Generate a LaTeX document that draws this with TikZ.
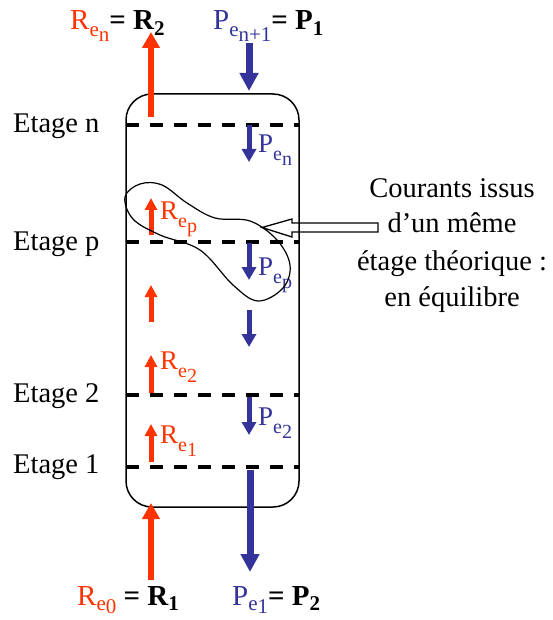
\documentclass[tikz,border=0pt]{standalone}
\usepackage{fontspec}
\setmainfont{Liberation Serif}
\usetikzlibrary{arrows.meta}
\definecolor{rcol}{RGB}{255,51,0}
\definecolor{bcol}{RGB}{51,51,153}
\newcommand\szA{\fontsize{29}{31}\selectfont}
\newcommand\szB{\fontsize{21}{23}\selectfont}
\newcommand\szC{\fontsize{27}{29}\selectfont}
\newcommand\szD{\fontsize{20}{22}\selectfont}
\newcommand\dn[2]{\raisebox{-#1pt}{#2}}
\begin{document}
\begin{tikzpicture}[x=1pt,y=-1pt,
  txt/.style={inner sep=0pt,anchor=base west},
  side/.style={inner sep=0pt,anchor=base,font=\fontsize{28.5}{30}\selectfont},
  stage/.style={inner sep=0pt,anchor=base west,font=\fontsize{28.5}{30}\selectfont},
  tray/.style={line width=4pt,dash pattern=on 13pt off 11pt},
  bigR/.style={rcol,line width=6pt,-{Triangle[width=17pt,length=16pt]}},
  bigB/.style={bcol,line width=7pt,-{Triangle[width=18pt,length=18pt]}},
  smallR/.style={rcol,line width=5pt,-{Triangle[width=12pt,length=12pt]}},
  smallB/.style={bcol,line width=5pt,-{Triangle[width=14pt,length=13pt]}}]
\useasboundingbox (0,0) rectangle (553,620);

% column
\draw[line width=1.5pt,rounded corners=26pt] (126,94) rectangle (299,507);

% trays
\foreach \yy/\nm in {125/n,242/p,395/two,467/one}{
  \coordinate (tl\nm) at (126,\yy);
  \coordinate (tr\nm) at (300,\yy);
  \draw[tray] (tl\nm) -- (tr\nm);
}

% stage labels
\node[stage] (sn) at (13,133) {Etage n};
\node[stage] (sp) at (13,250) {Etage p};
\node[stage] (s2) at (13,402) {Etage 2};
\node[stage] (s1) at (13,473) {Etage 1};

% top / bottom labels
\node[txt] (Rtop) at (70,30) {{\color{rcol}\szA R\szB\dn{7}{e}\dn{12}{n}}{\szA\bfseries = R\szB\dn{6}{2}}};
\node[txt] (Ptop) at (213,30) {{\color{bcol}\szA P\szB\dn{7}{e}\dn{12}{n+1}}{\szA\bfseries = P\szB\dn{6}{1}}};
\node[txt] (Rbot) at (77,605) {{\color{rcol}\szA R\szB\dn{5}{e}\dn{8}{0}}{\szA\bfseries\ = R\szB\dn{5}{1}}};
\node[txt] (Pbot) at (232,605) {{\color{bcol}\szA P\szB\dn{5}{e}\dn{8}{1}}{\szA\bfseries = P\szB\dn{5}{2}}};

% big arrows
\coordinate (rt0) at (151,117); \coordinate (rt1) at (151,32);
\coordinate (bt0) at (249,43);  \coordinate (bt1) at (249,91);
\coordinate (rb0) at (151,580); \coordinate (rb1) at (151,503);
\coordinate (bb0) at (250,470); \coordinate (bb1) at (250,572);
\draw[bigR] (rt0) -- (rt1);
\draw[bigB] (bt0) -- (bt1);
\draw[bigR] (rb0) -- (rb1);
\draw[bigB] (bb0) -- (bb1);

% small arrows
\foreach \a/\b/\nm in {235/198/a,322/285/b,393/355/c,462/424/d}{
  \coordinate (r\nm0) at (151,\a); \coordinate (r\nm1) at (151,\b);
  \draw[smallR] (r\nm0) -- (r\nm1);
}
\foreach \a/\b/\nm in {125/162/a,243/280/b,310/347/c,397/435/d}{
  \coordinate (b\nm0) at (249,\a); \coordinate (b\nm1) at (249,\b);
  \draw[smallB] (b\nm0) -- (b\nm1);
}

% inner labels
\node[txt,rcol] (Rp) at (160,219) {\szC R\szD\dn{8}{e}\dn{13}{p}};
\node[txt,rcol] (R2) at (160,369) {\szC R\szD\dn{8}{e}\dn{13}{2}};
\node[txt,rcol] (R1) at (160,443) {\szC R\szD\dn{8}{e}\dn{13}{1}};
\node[txt,bcol] (Pn) at (258,153) {\szC P\szD\dn{8}{e}\dn{13}{n}};
\node[txt,bcol] (Pp) at (258,275) {\szC P\szD\dn{8}{e}\dn{13}{p}};
\node[txt,bcol] (P2) at (258,425) {\szC P\szD\dn{8}{e}\dn{13}{2}};

% blob
\draw[line width=1.2pt] plot[smooth cycle,tension=0.6] coordinates {
 (125,197) (133,219) (160,235) (200,250) (233,285) (258,301) (283,288)
 (290,265) (277,240) (250,221) (215,218) (187,203) (162,185) (140,184)};

% comment text
\node[side] (c1) at (452,197) {Courants issus};
\node[side] (c2) at (452,233) {d’un même};
\node[side] (c3) at (452,270) {étage théorique :};
\node[side] (c4) at (452,306) {en équilibre};

% hollow arrow
\coordinate (tip) at (262,227.5);
\draw[line width=1.3pt,line join=miter] (tip) -- ++(30,-8.5) -- ++(0,4) -- ++(86,0) -- ++(0,9) -- ++(-86,0) -- ++(0,5) -- cycle;
\end{tikzpicture}
\end{document}
